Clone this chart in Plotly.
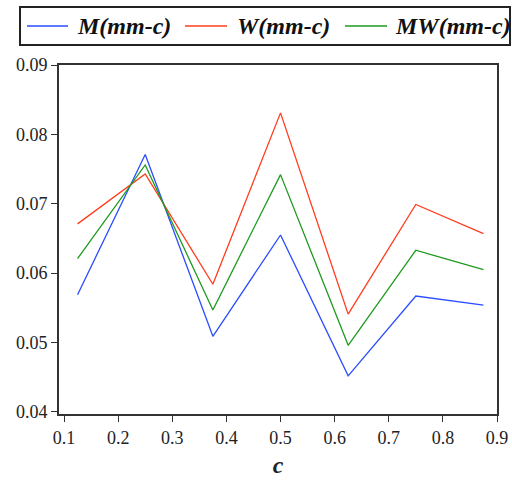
import plotly.graph_objects as go

c_vals = [0.125, 0.25, 0.375, 0.5, 0.625, 0.75, 0.875]
m_vals = [0.0569, 0.0771, 0.0509, 0.0655, 0.0452, 0.0567, 0.0554]
w_vals = [0.0671, 0.0743, 0.0584, 0.0831, 0.0541, 0.0699, 0.0657]
mw_vals = [0.0621, 0.0756, 0.0547, 0.0742, 0.0496, 0.0633, 0.0605]
names = ["M(mm-c)", "W(mm-c)", "MW(mm-c)"]
colors = ["#2b4cff", "#ff3c1e", "#1f9a1f"]

serif = "Liberation Serif"
fig = go.Figure()
for ys, nm, col in zip([m_vals, w_vals, mw_vals], names, colors):
    fig.add_trace(go.Scatter(x=c_vals, y=ys, mode="lines", name=nm,
                             line=dict(color=col, width=1.3), showlegend=False))

# custom legend (frame, line samples and labels) in paper coordinates
fig.add_shape(type="rect", xref="paper", yref="paper", x0=-0.089, x1=1.0297, y0=1.0573, y1=1.166,
              line=dict(color="#222", width=2), fillcolor="rgba(0,0,0,0)")
leg_line_x = [(-0.0731, 0.0205), (0.2877, 0.3836), (0.6530, 0.7489)]
leg_text_x = [0.0365, 0.4018, 0.7626]
leg_y = 1.1117
for (lx0, lx1), tx, nm, col in zip(leg_line_x, leg_text_x, names, colors):
    fig.add_shape(type="line", xref="paper", yref="paper", x0=lx0, x1=lx1, y0=leg_y, y1=leg_y,
                  line=dict(color=col, width=1.5))
    fig.add_annotation(xref="paper", yref="paper", x=tx, y=leg_y, xanchor="left", yanchor="middle",
                       text="<b><i>%s</i></b>" % nm, showarrow=False,
                       font=dict(size=24, family=serif, color="#111"))

fig.update_layout(
    width=512, height=496,
    margin=dict(l=59, r=15, t=65, b=82, autoexpand=False),
    paper_bgcolor="white", plot_bgcolor="white",
    font=dict(family=serif, color="#222"),
    showlegend=False,
    xaxis=dict(range=[0.0907, 0.9], dtick=0.1, tick0=0.1, tickformat=".1f",
               showgrid=False, zeroline=False, showline=True, linecolor="#333", linewidth=2,
               mirror=True, ticks="outside", ticklen=6, tickcolor="#333",
               tickfont=dict(size=18, family=serif),
               title=dict(text="<b><i>c</i></b>", font=dict(size=24, family=serif), standoff=10)),
    yaxis=dict(range=[0.0397, 0.09], dtick=0.01, tick0=0.04, tickformat=".2f",
               showgrid=False, zeroline=False, showline=True, linecolor="#333", linewidth=2,
               mirror=True, ticks="outside", ticklen=6, tickcolor="#333",
               tickfont=dict(size=18, family=serif)),
)
fig.write_html("out.html")
